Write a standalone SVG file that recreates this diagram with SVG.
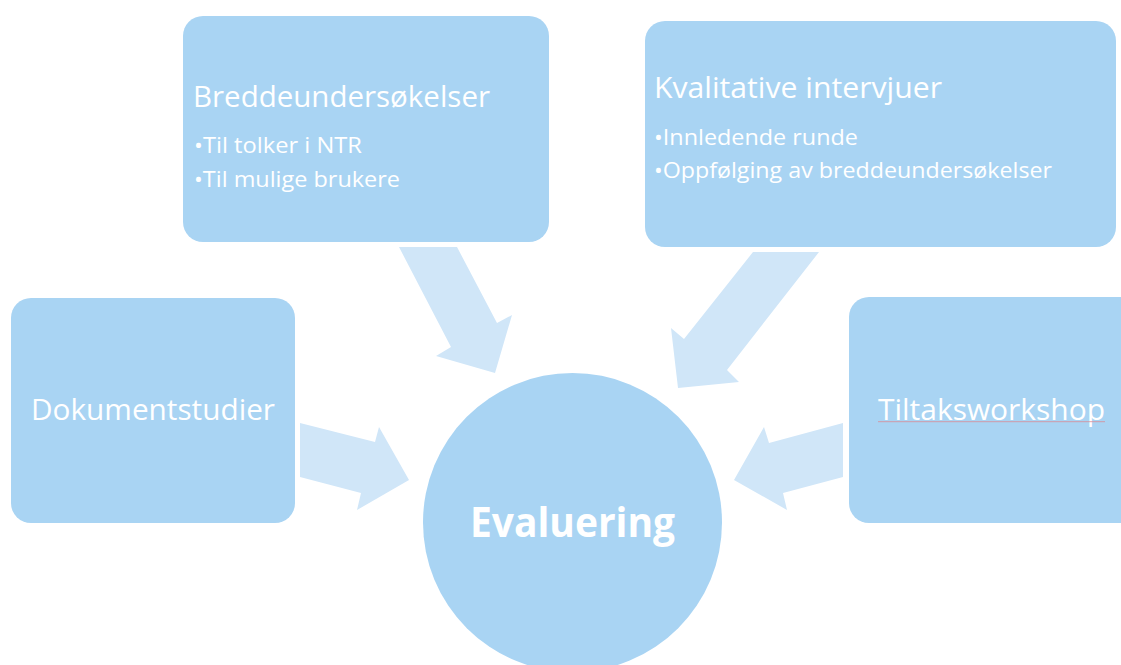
<svg xmlns="http://www.w3.org/2000/svg" width="1121" height="665" viewBox="0 0 1121 665">
<style>
.box{fill:#A9D4F3;}
.arrow{fill:#D0E6F8;}
.t{fill:#FFFFFF;font-family:"Open Sans","Noto Sans",sans-serif;}
.title{font-size:29px;}
.bul{font-size:21px;}
.main{font-size:42px;font-weight:bold;}
</style>
<rect width="1121" height="665" fill="#FFFFFF"/>
<g id="connectors">
<polygon class="arrow" points="399,247 457,247 497,323 512,315 495,373 436,356 451,347"/>
<polygon class="arrow" points="753,252 819,252 727,370 739,382 678,388 671,328 684,339"/>
<polygon class="arrow" points="300,423 375,442 379,427 409,480 357,510 361,493 300,477"/>
<polygon class="arrow" points="843,423 769,443 764,427 734,480 787,510 783,493 843,477"/>
</g>
<g id="node-bredde">
<rect class="box" x="183" y="16" width="366" height="226" rx="20"/>
<text class="t title" x="193" y="107" textLength="297" lengthAdjust="spacingAndGlyphs">Breddeundersøkelser</text>
<text class="t bul" x="194" y="153" textLength="168" lengthAdjust="spacingAndGlyphs">•Til tolker i NTR</text>
<text class="t bul" x="194" y="187" textLength="206" lengthAdjust="spacingAndGlyphs">•Til mulige brukere</text>
</g>
<g id="node-kvalitative">
<rect class="box" x="645" y="21" width="471" height="226" rx="20"/>
<text class="t title" x="654" y="98" textLength="288" lengthAdjust="spacingAndGlyphs">Kvalitative intervjuer</text>
<text class="t bul" x="654" y="145" textLength="204" lengthAdjust="spacingAndGlyphs">•Innledende runde</text>
<text class="t bul" x="654" y="178" textLength="398" lengthAdjust="spacingAndGlyphs">•Oppfølging av breddeundersøkelser</text>
</g>
<g id="node-dokument">
<rect class="box" x="11" y="298" width="284" height="225" rx="20"/>
<text class="t title" x="31" y="420" textLength="244" lengthAdjust="spacingAndGlyphs">Dokumentstudier</text>
</g>
<g id="node-tiltak">
<rect class="box" x="849" y="297" width="300" height="226" rx="20"/>
<text class="t title" x="878" y="420" textLength="227" lengthAdjust="spacingAndGlyphs">Tiltaksworkshop</text>
<line x1="878" y1="421.7" x2="1105" y2="421.7" stroke="#D98A95" stroke-width="0.8"/>
</g>
<g id="node-evaluering">
<circle class="box" cx="572.5" cy="522.5" r="149.5"/>
<text class="t main" x="470" y="537" textLength="205" lengthAdjust="spacingAndGlyphs">Evaluering</text>
</g>
</svg>
